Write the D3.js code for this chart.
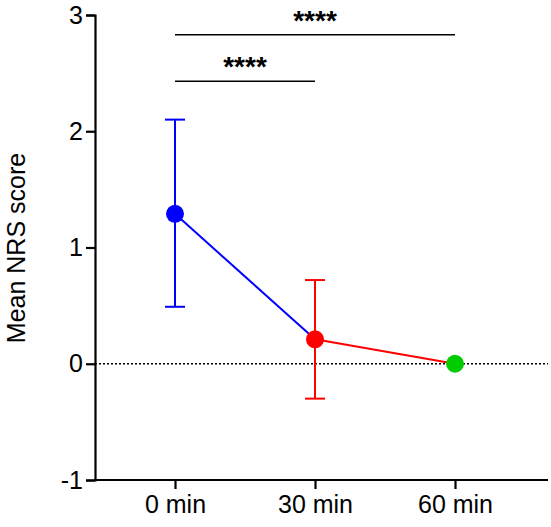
<!DOCTYPE html>
<html><head><meta charset="utf-8">
<script src="https://d3js.org/d3.v7.min.js"></script>
<style>body{margin:0;background:#fff}</style></head>
<body><svg id="c" width="551" height="527"></svg>
<script>
const categories = ["0 min","30 min","60 min"];
const means = [1.29, 0.21, 0.0];
const lower = [0.49, -0.30, 0.0];
const upper = [2.10, 0.72, 0.0];
const colors = ["#0000ff","#ff0000","#00cc00"];
const yTicks = [-1,0,1,2,3];
const sigPairs = [[0,2,"****"],[0,1,"****"]];
const sigLevels = [2.83, 2.43];

const svg = d3.select("#c");
const font = "Arial, 'Liberation Sans', sans-serif";
const x = d3.scalePoint().domain(categories).range([175,455]);
const y = d3.scaleLinear().domain([-1,3]).range([480,15]);

svg.append("line").attr("x1",95).attr("x2",548).attr("y1",y(0)).attr("y2",y(0))
  .attr("stroke","#000").attr("stroke-width",1.3).attr("stroke-dasharray","2,2");

const ya = svg.append("g").attr("transform","translate(95,0)")
  .call(d3.axisLeft(y).tickValues(yTicks).tickSize(9).tickFormat(d=>String(d).replace("\u2212","-")));
const xa = svg.append("g").attr("transform","translate(0,480)")
  .call(d3.axisBottom(x).tickSize(9));
xa.select(".domain").attr("d","M95,0H548");
[ya,xa].forEach(a=>{
  a.attr("font-size",null).attr("font-family",null);
  a.selectAll("path,line").attr("stroke","#000").attr("stroke-width",2.2);
  a.selectAll("text").style("font-family",font).style("font-size","25px").attr("fill","#000");
});
ya.selectAll("text").attr("x",-12);
xa.selectAll("text").attr("y",15);

svg.append("text").attr("transform","translate(25,248) rotate(-90)")
  .attr("text-anchor","middle").style("font-family",font).style("font-size","25px")
  .text("Mean NRS score");

for(let i=0;i<means.length-1;i++){
  svg.append("line").attr("x1",x(categories[i])).attr("y1",y(means[i]))
    .attr("x2",x(categories[i+1])).attr("y2",y(means[i+1]))
    .attr("stroke",colors[i]).attr("stroke-width",2);
}
categories.forEach((c,i)=>{
  if(upper[i]===lower[i]) return;
  const g=svg.append("g").attr("stroke",colors[i]).attr("stroke-width",2);
  g.append("line").attr("x1",x(c)).attr("x2",x(c)).attr("y1",y(lower[i])).attr("y2",y(upper[i]));
  [lower[i],upper[i]].forEach(v=>g.append("line").attr("x1",x(c)-10).attr("x2",x(c)+10).attr("y1",y(v)).attr("y2",y(v)));
});
categories.forEach((c,i)=>{
  svg.append("circle").attr("cx",x(c)).attr("cy",y(means[i])).attr("r",9).attr("fill",colors[i]);
});
sigPairs.forEach((p,k)=>{
  const x1=x(categories[p[0]]), x2=x(categories[p[1]]), yy=y(sigLevels[k]);
  svg.append("line").attr("x1",x1).attr("x2",x2).attr("y1",yy).attr("y2",yy).attr("stroke","#000").attr("stroke-width",1.3);
  svg.append("text").attr("x",(x1+x2)/2).attr("y",yy-5).attr("text-anchor","middle")
    .style("font-family",font).style("font-size","28px").style("font-weight","bold").text(p[2]);
});
</script></body></html>
